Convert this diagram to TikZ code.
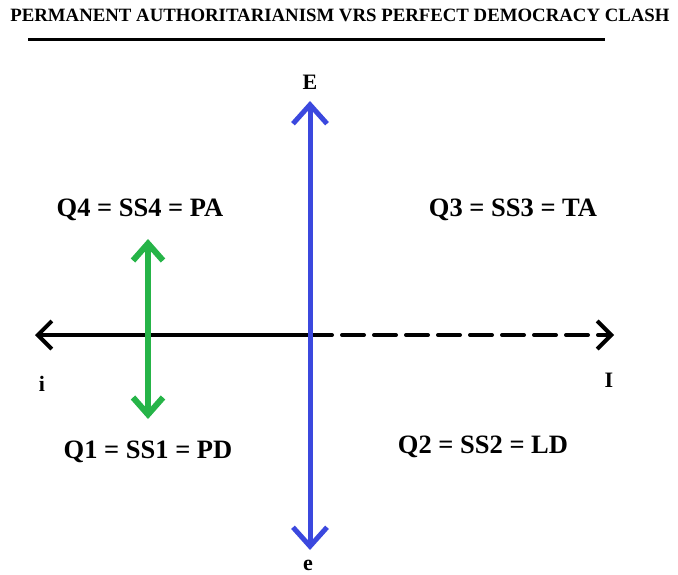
\documentclass[tikz,border=0pt]{standalone}
\usepackage{fontspec}
\setmainfont{Liberation Serif}
\usetikzlibrary{arrows.meta}
\definecolor{axisblue}{RGB}{59,72,222}
\definecolor{axisgreen}{RGB}{38,180,72}
\tikzstyle{label} = [font=\fontsize{26.5}{30}\selectfont\bfseries, text=black]
\tikzstyle{letter} = [font=\fontsize{22}{26}\selectfont\bfseries, text=black]
\tikzstyle{blackaxis} = [line width=4pt, black, line cap=round, -{Straight Barb[length=14pt, width=28pt, line width=4pt]}]
\tikzstyle{blueaxis} = [line width=5pt, axisblue, line cap=round, {Straight Barb[length=19pt, width=34pt, line width=5pt]}-{Straight Barb[length=19pt, width=34pt, line width=5pt]}]
\tikzstyle{greenaxis} = [line width=6pt, axisgreen, line cap=round, {Straight Barb[length=17pt, width=30pt, line width=6pt]}-{Straight Barb[length=17pt, width=30pt, line width=6pt]}]

\begin{document}
\begin{tikzpicture}[x=1pt, y=-1pt]
    \useasboundingbox (0,0) rectangle (678,575);

    % Title
    \node (title) at (340,15) [font=\fontsize{18.8}{22}\selectfont\bfseries] {PERMANENT AUTHORITARIANISM VRS PERFECT DEMOCRACY CLASH};
    \draw [line width=3pt] (28,40) -- (605,40);

    % Nodes
    \node (E) at (310,82) [letter] {E};
    \node (e) at (308,565) [letter] {e};
    \node (i) at (42,384) [letter] {i};
    \node (I) at (609,380) [letter] {I};
    \node (q4) at (140,210) [label] {Q4 = SS4 = PA};
    \node (q3) at (513,210) [label] {Q3 = SS3 = TA};
    \node (q1) at (148,452) [label] {Q1 = SS1 = PD};
    \node (q2) at (483,447) [label] {Q2 = SS2 = LD};

    \coordinate (origin) at (310,335);
    \coordinate (west) at (35,335);
    \coordinate (east) at (614,335);
    \coordinate (north) at (310,101);
    \coordinate (south) at (310,550);
    \coordinate (up) at (148,239);
    \coordinate (down) at (148,419);

    % Arrows
    \draw [blackaxis] (origin) -- (west);
    \draw [blackaxis, dash pattern=on 22pt off 10pt] (origin) -- (east);
    \draw [blueaxis] (south) -- (north);
    \draw [greenaxis] (down) -- (up);

\end{tikzpicture}
\end{document}
